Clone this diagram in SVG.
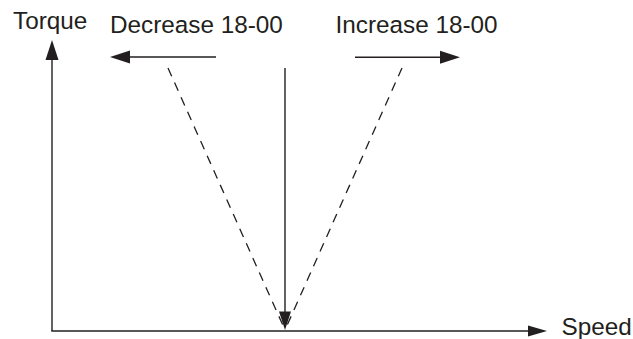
<svg xmlns="http://www.w3.org/2000/svg" width="633" height="339" viewBox="0 0 633 339">
<defs>
<style>
.ln{stroke:#231f20;stroke-width:1.4;fill:none}
.dash{stroke:#231f20;stroke-width:1.3;fill:none;stroke-dasharray:9 7}
.t{font-family:"Liberation Sans",Arial,sans-serif;font-size:24.3px;fill:#231f20}
.ah{fill:#231f20}
</style>
</defs>
<g id="connectors">
<line class="dash" x1="168" y1="68" x2="285" y2="330"/>
<line class="dash" x1="402" y1="68" x2="285" y2="330"/>
</g>
<g id="axes">
<line class="ln" x1="52" y1="331" x2="52" y2="58"/>
<polygon class="ah" points="52,40 45.5,60 58.5,60"/>
<line class="ln" x1="51.3" y1="331" x2="530" y2="331"/>
<polygon class="ah" points="547,331 528,325.5 528,336.5"/>
</g>
<g id="center">
<line class="ln" x1="285" y1="68" x2="285" y2="314"/>
<polygon class="ah" points="285,330 279,311.5 291,311.5"/>
</g>
<g id="decrease">
<line class="ln" x1="216" y1="57" x2="128" y2="57"/>
<polygon class="ah" points="110,57 130,50.5 130,63.5"/>
<text class="t" x="110" y="32.5">Decrease 18-00</text>
</g>
<g id="increase">
<line class="ln" x1="355" y1="57.3" x2="442" y2="57.3"/>
<polygon class="ah" points="460,57.3 440,50.8 440,63.8"/>
<text class="t" x="335.5" y="33">Increase 18-00</text>
</g>
<g id="torque">
<text class="t" x="13" y="29.3">Torque</text>
</g>
<g id="speed">
<text class="t" x="561.5" y="335">Speed</text>
</g>
</svg>
